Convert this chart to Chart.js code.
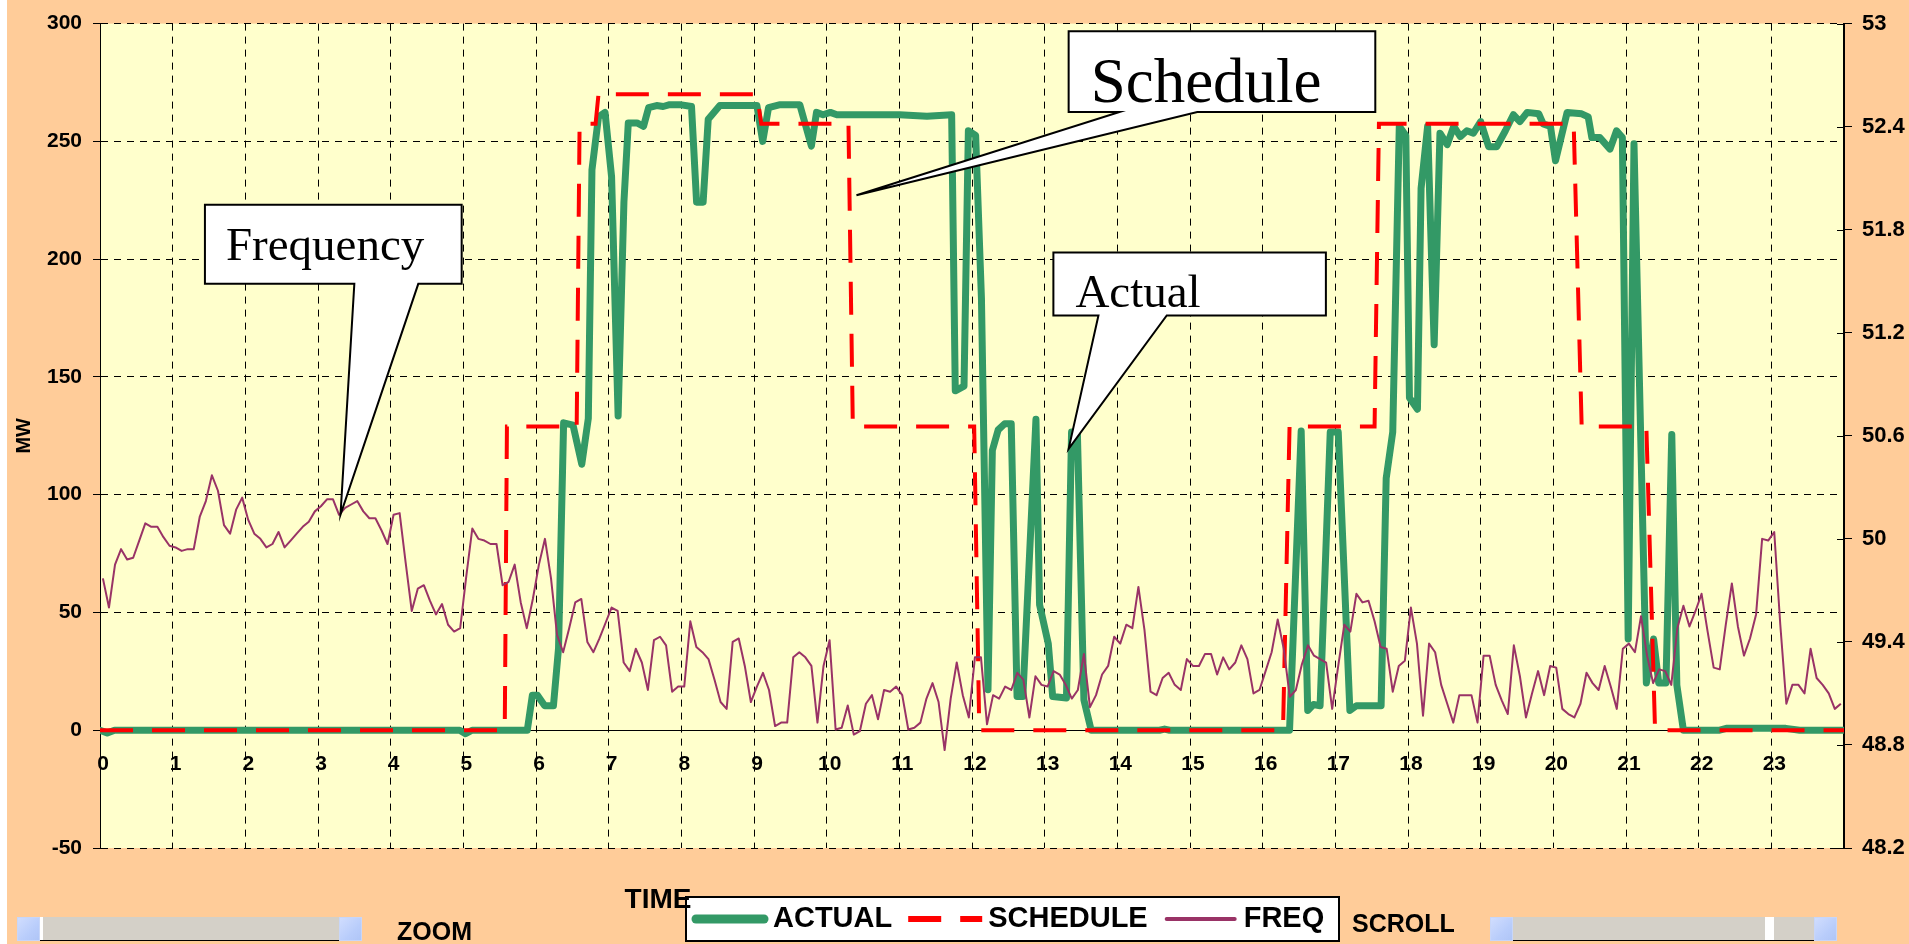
<!DOCTYPE html>
<html lang="en">
<head>
<meta charset="UTF-8">
<title>Actual / Schedule / Frequency</title>
<script src="https://cdn.jsdelivr.net/npm/chart.js"></script>
<style>
    body {
        margin: 0;
        width: 1909px;
        height: 944px;
        overflow: hidden;
        position: relative;
        background: #ffffff;
        font-family: "Liberation Sans", Arial, sans-serif;
    }
    #wrap {
        position: absolute;
        left: 7px;
        top: 0;
        width: 1902px;
        height: 944px;
        background: #ffcc99;
    }
    .sb {
        position: absolute;
        top: 917px;
        height: 24px;
        display: flex;
    }
    .sb .btn {
        width: 23px;
        height: 24px;
        background: linear-gradient(135deg, #d2defe 0%, #b9cdfb 60%, #aec4f6 100%);
        box-shadow: inset 0 0 0 1px #c8d6f8;
    }
    .sb .track {
        flex: 1;
        height: 23px;
        background: #d4d0c8;
        border-bottom: 1px solid #000;
        position: relative;
    }
    .sb .thumb {
        position: absolute;
        top: 0;
        height: 23px;
        background: #ffffff;
    }
    .lbl {
        position: absolute;
        font: bold 25px/25px "Liberation Sans", Arial, sans-serif;
        color: #000;
    }
</style>
</head>
<body>
<div id="wrap"><canvas id="chart"></canvas></div>

<div class="sb" style="left:17px; width:345px;">
    <div class="btn"></div>
    <div class="track"><div class="thumb" style="left:0; width:3px;"></div></div>
    <div class="btn"></div>
</div>
<div class="lbl" style="left:397px; top:919px;">ZOOM</div>
<div class="lbl" style="left:1352px; top:911px;">SCROLL</div>
<div class="sb" style="left:1490px; width:347px;">
    <div class="btn"></div>
    <div class="track"><div class="thumb" style="left:252px; width:9px;"></div></div>
    <div class="btn"></div>
</div>

<script>
// hour, MW
const actualPts = [
    [0, 0], [0.1, -1.2], [0.2, 0], [4.95, 0], [5.03, -1.5], [5.12, 0], [5.88, 0],
    [5.95, 14.8], [6.02, 14.8], [6.12, 10.4], [6.24, 10.4], [6.31, 34.8], [6.38, 130.5],
    [6.51, 129.5], [6.63, 112.9], [6.72, 132.4], [6.77, 237.9], [6.86, 260.4], [6.95, 262.3],
    [7.04, 235], [7.13, 133.4], [7.21, 224.2], [7.27, 257.8], [7.39, 257.8], [7.48, 256.4],
    [7.55, 264.3], [7.66, 265.2], [7.75, 264.8], [7.84, 265.6], [7.98, 265.6], [8.14, 264.8],
    [8.21, 224.2], [8.30, 224.2], [8.37, 259.4], [8.53, 265.2], [9.04, 265.2], [9.12, 250.0],
    [9.20, 264.3], [9.36, 265.6], [9.63, 265.6], [9.79, 248.0], [9.86, 262.3], [9.95, 261.3],
    [10.05, 262.3], [10.14, 261.3], [11.0, 261.3], [11.38, 260.7], [11.72, 261.3],
    [11.77, 144.1], [11.89, 146.1], [11.95, 254.5], [12.05, 252.5], [12.13, 183.2],
    [12.22, 17.2], [12.28, 118.8], [12.36, 127.5], [12.45, 130.1], [12.54, 130.1],
    [12.62, 14.3], [12.70, 14.3], [12.88, 132.0], [12.93, 53.3], [13.05, 36.7], [13.11, 14.3],
    [13.30, 13.7], [13.37, 126.6], [13.45, 126.6], [13.54, 12.9], [13.64, 0], [14.58, 0],
    [14.65, 0.5], [14.72, 0], [16.37, 0], [16.53, 127], [16.62, 8.4], [16.70, 10.9],
    [16.79, 10.4], [16.93, 126.6], [17.04, 126.6], [17.20, 8.4], [17.29, 10.4], [17.63, 10.4],
    [17.70, 107], [17.79, 126.6], [17.88, 256.4], [17.97, 252.5], [18.02, 141.2],
    [18.13, 136.3], [18.18, 230], [18.27, 256.4], [18.36, 163.7], [18.44, 253.5],
    [18.54, 248.6], [18.63, 256.4], [18.72, 252], [18.81, 254.5], [18.90, 253.5], [19.0, 258.4],
    [19.11, 247.7], [19.22, 247.7], [19.34, 254.5], [19.45, 261.3], [19.54, 258.4],
    [19.64, 262.3], [19.80, 261.7], [19.86, 257.4], [19.96, 256.4], [20.03, 241.8],
    [20.19, 262.3], [20.39, 261.7], [20.48, 260.4], [20.53, 251.6], [20.64, 251.6],
    [20.78, 246.7], [20.87, 254.5], [20.95, 251.6], [21.03, 38.7], [21.11, 249.0],
    [21.28, 20.1], [21.38, 38.7], [21.45, 20.1], [21.55, 20.1], [21.63, 125.6], [21.70, 19.1],
    [21.79, 0], [22.29, 0], [22.38, 0.8], [23.2, 0.8], [23.39, 0], [24, 0]
];

// hour, MW (step schedule)
const schedulePts = [
    [0, 0], [5.57, 0], [5.6, 129], [6.56, 129], [6.6, 257.5], [6.82, 257.5], [6.86, 270],
    [9.04, 270], [9.1, 257.5], [10.3, 257.5], [10.36, 129], [12.03, 129], [12.1, 0],
    [16.28, 0], [16.37, 129], [17.54, 129], [17.6, 257.5], [20.28, 257.5], [20.39, 129],
    [21.28, 129], [21.4, 0], [24, 0]
];

// frequency in Hz, one sample every 5 minutes
const FREQ_T0 = 0.04;
const FREQ_DT = 5 / 60;
const freqHz = [
    49.77, 49.60, 49.85, 49.94, 49.88, 49.89, 49.99, 50.09, 50.07, 50.07, 50.01, 49.96,
    49.95, 49.93, 49.94, 49.94, 50.13, 50.22, 50.37, 50.28, 50.08, 50.03, 50.17, 50.24,
    50.11, 50.03, 50.00, 49.95, 49.97, 50.04, 49.95, 49.99, 50.03, 50.07, 50.10, 50.16,
    50.19, 50.23, 50.23, 50.14, 50.18, 50.20, 50.22, 50.16, 50.12, 50.12, 50.05, 49.97,
    50.14, 50.15, 49.86, 49.58, 49.71, 49.73, 49.64, 49.56, 49.62, 49.50, 49.46, 49.48,
    49.78, 50.06, 50.00, 49.99, 49.97, 49.97, 49.73, 49.75, 49.85, 49.63, 49.48, 49.65,
    49.85, 50.00, 49.77, 49.44, 49.34, 49.48, 49.63, 49.65, 49.40, 49.34, 49.42, 49.51,
    49.60, 49.58, 49.28, 49.23, 49.36, 49.28, 49.12, 49.41, 49.43, 49.38, 49.11, 49.14,
    49.14, 49.52, 49.37, 49.34, 49.30, 49.18, 49.05, 49.01, 49.40, 49.42, 49.26, 49.05,
    49.14, 49.22, 49.12, 48.91, 48.93, 48.93, 49.31, 49.34, 49.31, 49.26, 48.93, 49.26,
    49.41, 48.89, 48.90, 49.03, 48.86, 48.88, 49.04, 49.09, 48.95, 49.12, 49.11, 49.14,
    49.09, 48.89, 48.90, 48.93, 49.07, 49.16, 49.05, 48.77, 49.07, 49.28, 49.09, 48.96,
    49.31, 49.31, 48.92, 49.09, 49.07, 49.14, 49.12, 49.22, 49.18, 48.96, 49.20, 49.15,
    49.14, 49.23, 49.21, 49.15, 49.07, 49.12, 49.33, 49.02, 49.09, 49.21, 49.26, 49.43,
    49.39, 49.50, 49.48, 49.72, 49.47, 49.11, 49.09, 49.19, 49.22, 49.15, 49.12, 49.30,
    49.26, 49.26, 49.33, 49.33, 49.21, 49.31, 49.24, 49.28, 49.38, 49.30, 49.10, 49.12,
    49.23, 49.34, 49.53, 49.36, 49.08, 49.12, 49.27, 49.38, 49.32, 49.30, 49.28, 49.01,
    49.26, 49.50, 49.46, 49.68, 49.63, 49.64, 49.52, 49.37, 49.36, 49.11, 49.26, 49.29,
    49.60, 49.39, 48.97, 49.39, 49.34, 49.15, 49.04, 48.93, 49.09, 49.09, 49.09, 48.93,
    49.32, 49.32, 49.15, 49.06, 48.98, 49.38, 49.20, 48.96, 49.10, 49.23, 49.09, 49.26,
    49.25, 49.01, 48.98, 48.96, 49.04, 49.22, 49.16, 49.12, 49.26, 49.14, 49.01, 49.36,
    49.39, 49.34, 49.55, 49.32, 49.16, 49.24, 49.23, 49.15, 49.48, 49.61, 49.49, 49.58,
    49.68, 49.46, 49.25, 49.24, 49.50, 49.74, 49.49, 49.32, 49.42, 49.56, 50.00, 49.99,
    50.04, 49.50, 49.04, 49.15, 49.15, 49.10, 49.36, 49.19, 49.15, 49.10, 49.01, 49.04
];

const seriesNames = ['ACTUAL', 'SCHEDULE', 'FREQ'];

// callout boxes in data units: box [h left, MW top, h right, MW bottom], pointer base hours, tip [h, MW]
const callouts = [
    { text: 'Frequency', box: [1.444, 223.1, 4.977, 189.5], base: [3.50, 4.38], tip: [3.31, 91.6] },
    { text: 'Schedule', box: [13.33, 296.7, 17.55, 262.5], base: [14.03, 15.10], tip: [10.41, 227.1] },
    { text: 'Actual', box: [13.12, 202.8, 16.87, 176.1], base: [13.74, 14.68], tip: [13.33, 119.5] }
];
const calloutStyle = {
    Frequency: { size: 47, dx: 21, dy: 24 },
    Schedule: { size: 63, dx: 22, dy: 10 },
    Actual: { size: 47, dx: 22, dy: 8 }
};

const SANS = '"Liberation Sans", Arial, sans-serif';
const SERIF = '"Liberation Serif", "Times New Roman", serif';

const decor = {
    id: 'decor',
    beforeDraw(chart) {
        const { ctx, chartArea: a } = chart;
        ctx.save();
        ctx.fillStyle = '#ffffcc';
        ctx.fillRect(a.left, a.top, a.right - a.left, a.bottom - a.top);
        ctx.restore();
    },
    afterDatasetsDraw(chart) {
        const { ctx } = chart;
        const sx = chart.scales.x, sy = chart.scales.y;
        callouts.forEach(c => {
            const st = calloutStyle[c.text];
            const l = sx.getPixelForValue(c.box[0]), t = sy.getPixelForValue(c.box[1]);
            const r = sx.getPixelForValue(c.box[2]), b = sy.getPixelForValue(c.box[3]);
            const b1 = sx.getPixelForValue(c.base[0]), b2 = sx.getPixelForValue(c.base[1]);
            const tx = sx.getPixelForValue(c.tip[0]), ty = sy.getPixelForValue(c.tip[1]);
            ctx.save();
            ctx.beginPath();
            ctx.moveTo(l, t);
            ctx.lineTo(r, t);
            ctx.lineTo(r, b);
            ctx.lineTo(b2, b);
            ctx.lineTo(tx, ty);
            ctx.lineTo(b1, b);
            ctx.lineTo(l, b);
            ctx.closePath();
            ctx.fillStyle = '#ffffff';
            ctx.fill();
            ctx.lineWidth = 2;
            ctx.lineJoin = 'miter';
            ctx.strokeStyle = '#000000';
            ctx.stroke();
            ctx.fillStyle = '#000000';
            ctx.font = st.size + 'px ' + SERIF;
            ctx.textBaseline = 'alphabetic';
            ctx.textAlign = 'left';
            ctx.fillText(c.text, l + st.dx, b - st.dy);
            ctx.restore();
        });
    },
    afterDraw(chart) {
        const { ctx } = chart;
        ctx.save();
        // right axis tick marks also reach a little into the plot
        const y2 = chart.scales.y2;
        ctx.strokeStyle = '#000000';
        ctx.lineWidth = 1;
        y2.ticks.forEach(t => {
            const py = Math.round(y2.getPixelForValue(t.value)) + 0.5;
            ctx.beginPath();
            ctx.moveTo(y2.left - 7, py);
            ctx.lineTo(y2.left, py);
            ctx.stroke();
        });
        // legend box
        const boxL = 679, boxT = 897, boxR = 1332, boxB = 941;
        ctx.fillStyle = '#ffffff';
        ctx.fillRect(boxL, boxT, boxR - boxL, boxB - boxT);
        ctx.lineWidth = 2;
        ctx.strokeStyle = '#000000';
        ctx.strokeRect(boxL, boxT, boxR - boxL, boxB - boxT);
        ctx.font = 'bold 29px ' + SANS;
        ctx.textBaseline = 'middle';
        ctx.textAlign = 'left';
        const cy = 919;
        let x = 686;
        chart.data.datasets.forEach(ds => {
            ctx.save();
            ctx.strokeStyle = ds.borderColor;
            ctx.lineWidth = ds.borderWidth + 2;
            ctx.lineCap = ds.borderDash ? 'butt' : 'round';
            ctx.setLineDash(ds.borderDash || []);
            ctx.beginPath();
            ctx.moveTo(x + (ds.borderDash ? 0 : 3), cy);
            ctx.lineTo(x + 74 - (ds.borderDash ? 0 : 3), cy);
            ctx.stroke();
            ctx.restore();
            x += 80;
            ctx.fillStyle = '#000000';
            ctx.fillText(ds.label, x, cy);
            x += ctx.measureText(ds.label).width + 16;
        });
        // axis title
        ctx.font = 'bold 28px ' + SANS;
        ctx.textAlign = 'center';
        ctx.fillStyle = '#000000';
        ctx.fillText('TIME', 651, 900);
        ctx.restore();
    }
};

const gridDash = [7, 6];

new Chart(document.getElementById('chart'), {
    type: 'line',
    data: {
        datasets: [{
            label: seriesNames[0],
            data: actualPts.map(p => ({ x: p[0], y: p[1] })),
            borderColor: '#339966',
            borderWidth: 7,
            borderJoinStyle: 'round',
            borderCapStyle: 'round',
            pointRadius: 0,
            tension: 0,
            yAxisID: 'y',
            order: 3
        }, {
            label: seriesNames[1],
            data: schedulePts.map(p => ({ x: p[0], y: p[1] })),
            borderColor: '#ff0000',
            borderWidth: 4,
            borderDash: [33, 19],
            borderCapStyle: 'butt',
            pointRadius: 0,
            tension: 0,
            yAxisID: 'y',
            order: 2
        }, {
            label: seriesNames[2],
            data: freqHz.map((v, i) => ({ x: FREQ_T0 + i * FREQ_DT, y: v })),
            borderColor: '#993366',
            borderWidth: 2,
            borderJoinStyle: 'round',
            pointRadius: 0,
            tension: 0,
            yAxisID: 'y2',
            order: 1
        }]
    },
    options: {
        responsive: true,
        maintainAspectRatio: false,
        animation: false,
        events: [],
        layout: {
            padding: { top: 14, left: 0, right: 0, bottom: 96 }
        },
        plugins: {
            legend: { display: false },
            tooltip: { enabled: false }
        },
        scales: {
            x: {
                type: 'linear',
                position: { y: 0 },
                min: 0,
                max: 24,
                grid: {
                    color: '#000000',
                    lineWidth: 1,
                    drawTicks: false,
                    borderDash: gridDash
                },
                border: { display: true, color: '#000000', width: 1, dash: gridDash },
                ticks: {
                    stepSize: 1,
                    autoSkip: false,
                    maxRotation: 0,
                    padding: 21,
                    labelOffset: 3,
                    color: '#000000',
                    font: { family: SANS, size: 21, weight: 'bold' },
                    callback: v => (v < 24 ? String(v) : '')
                }
            },
            y: {
                position: 'left',
                min: -50,
                max: 300,
                afterFit: s => { s.width = 93; },
                grid: {
                    color: '#000000',
                    lineWidth: 1,
                    tickLength: 7,
                    tickColor: '#000000',
                    borderDash: gridDash
                },
                border: { display: true, color: '#000000', width: 1, dash: gridDash },
                ticks: {
                    stepSize: 50,
                    padding: 11,
                    color: '#000000',
                    font: { family: SANS, size: 21, weight: 'bold' }
                },
                title: {
                    display: true,
                    text: 'MW',
                    color: '#000000',
                    padding: { top: 5, bottom: 0 },
                    font: { family: SANS, size: 20, weight: 'bold' }
                }
            },
            y2: {
                position: 'right',
                min: 48.2,
                max: 53,
                afterFit: s => { s.width = 65; },
                grid: {
                    drawOnChartArea: false,
                    tickLength: 8,
                    tickColor: '#000000'
                },
                border: { display: true, color: '#000000', width: 2 },
                ticks: {
                    stepSize: 0.6,
                    padding: 10,
                    color: '#000000',
                    font: { family: SANS, size: 22, weight: 'bold' },
                    callback: v => String(+Number(v).toFixed(1))
                }
            }
        }
    },
    plugins: [decor]
});
</script>
</body>
</html>
